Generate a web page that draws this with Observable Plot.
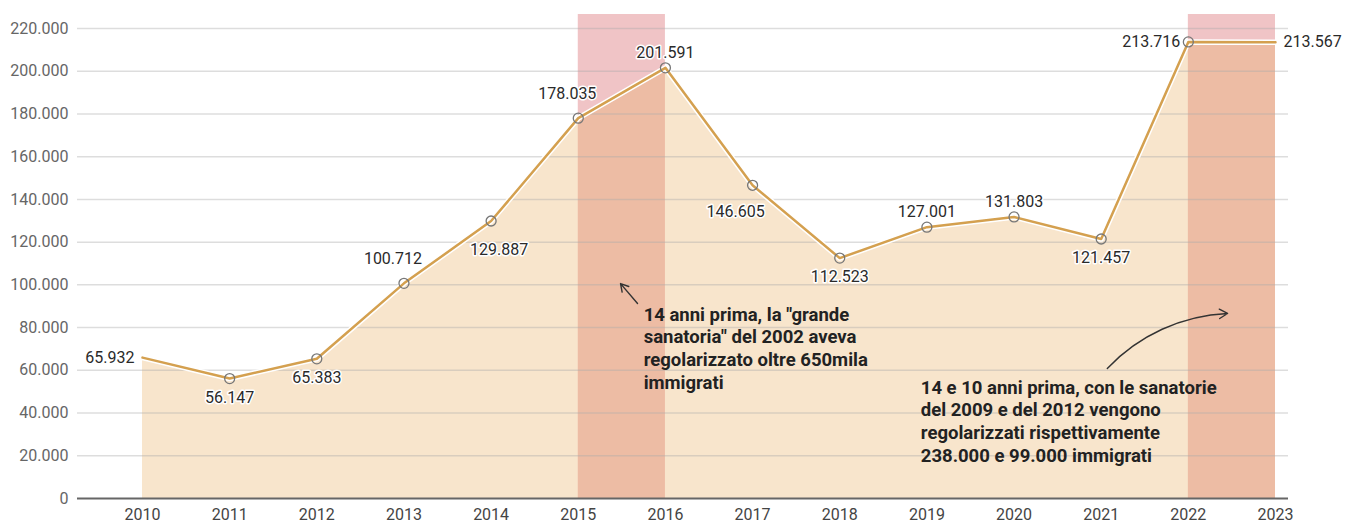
<!DOCTYPE html>
<html><head><meta charset="utf-8">
<script src="https://cdn.jsdelivr.net/npm/d3@7"></script>
<script src="https://cdn.jsdelivr.net/npm/@observablehq/plot@0.6"></script>
<style>body{margin:0;background:#fff;font-family:Roboto,sans-serif}</style>
</head><body><div id="chart"></div>
<script>
// ---- data ----
const years = [2010,2011,2012,2013,2014,2015,2016,2017,2018,2019,2020,2021,2022,2023];
const values = [65932,56147,65383,100712,129887,178035,201591,146605,112523,127001,131803,121457,213716,213567];
const labelPlacement = ["left","below","below","above-left","below-right","above-left","above","below-left","below","above","above","below","left","right"];
const circledYears = [2011,2012,2013,2014,2015,2016,2017,2018,2019,2020,2021,2022];
const highlightStart = [2015, 2022];
const highlightEnd = [2016, 2023];
const yTicks = [0,20000,40000,60000,80000,100000,120000,140000,160000,180000,200000,220000];
const noteTexts = [
  "14 anni prima, la \"grande\nsanatoria\" del 2002 aveva\nregolarizzato oltre 650mila\nimmigrati",
  "14 e 10 anni prima, con le sanatorie\ndel 2009 e del 2012 vengono\nregolarizzati rispettivamente\n238.000 e 99.000 immigrati"
];
const noteX = [2015.75, 2018.93];
const noteY = [70700, 36500];
const arrowX1 = [2015.68, 2021.07];
const arrowY1 = [91300, 60900];
const arrowX2 = [2015.485, 2022.45];
const arrowY2 = [100600, 86600];
const arrowBend = [0, 22];

// ---- build tables ----
const data = years.map((y, i) => ({year: y, value: values[i], pos: labelPlacement[i]}));
const circled = data.filter(d => circledYears.includes(d.year));
const highlights = highlightStart.map((s, i) => ({x1: s, x2: highlightEnd[i]}));
const notes = noteTexts.map((t, i) => ({text: t, x: noteX[i], y: noteY[i]}));
const arrows = arrowX1.map((x, i) => ({x1: x, y1: arrowY1[i], x2: arrowX2[i], y2: arrowY2[i], bend: arrowBend[i]}));

const fmt = d3.formatLocale({decimal: ",", thousands: ".", grouping: [3], currency: ["€", ""]}).format(",d");

const offsets = {
  "left": {textAnchor: "end", dx: -8, dy: 0},
  "right": {textAnchor: "start", dx: 8, dy: 0},
  "above": {textAnchor: "middle", dx: 0, dy: -15},
  "below": {textAnchor: "middle", dx: 0, dy: 19},
  "above-left": {textAnchor: "middle", dx: -11, dy: -24},
  "below-right": {textAnchor: "middle", dx: 8, dy: 29},
  "below-left": {textAnchor: "middle", dx: -17, dy: 27}
};
const labelMarks = Object.entries(offsets).map(([k, o]) =>
  Plot.text(data.filter(d => d.pos === k), {
    x: "year", y: "value", text: d => fmt(d.value),
    textAnchor: o.textAnchor, dx: o.dx, dy: o.dy,
    fontSize: 16, fill: "#2a2a2a", stroke: "white", strokeWidth: 3, paintOrder: "stroke"
  })
);

const arrowMarks = arrows.map(a =>
  Plot.arrow([a], {x1: "x1", y1: "y1", x2: "x2", y2: "y2", bend: a.bend, stroke: "#333", strokeWidth: 1.4, headLength: 10})
);

const lineColor = "#d4a04f";

const chart = Plot.plot({
  width: 1354,
  height: 525,
  marginLeft: 77,
  marginRight: 66,
  marginTop: 14,
  marginBottom: 27,
  style: {fontFamily: "Roboto, sans-serif", fontSize: "16px", background: "white"},
  x: {domain: [2010, 2023], range: [142, 1275]},
  y: {domain: [0, 220000], range: [498, 28]},
  marks: [
    Plot.rect(highlights, {x1: "x1", x2: "x2", fill: "#f0c4c6"}),
    Plot.areaY(data, {x: "year", y: "value", fill: "#e8a857", fillOpacity: 0.3}),
    Plot.ruleY(yTicks.filter(d => d > 0), {stroke: "#aaa", strokeOpacity: 0.4, strokeWidth: 1.5}),
    Plot.axisY(yTicks, {tickSize: 0, tickPadding: 9, tickFormat: fmt, fontSize: 16, color: "#666", label: null}),
    Plot.axisX(years, {tickSize: 0, tickPadding: 10, tickFormat: d => String(d), fontSize: 16, color: "#444", label: null}),
    Plot.ruleY([0], {stroke: "#666", strokeWidth: 2}),
    Plot.lineY(data, {x: "year", y: "value", stroke: "white", strokeWidth: 5.5}),
    Plot.lineY(data, {x: "year", y: "value", stroke: lineColor, strokeWidth: 2.5}),
    Plot.dot(circled, {x: "year", y: "value", r: 5, stroke: "#777", strokeWidth: 1.3, fill: "none"}),
    ...labelMarks,
    ...arrowMarks,
    Plot.text(notes, {x: "x", y: "y", text: "text", textAnchor: "start", lineAnchor: "middle", lineHeight: 1.23, fontSize: 18.5, fontWeight: "bold", fill: "#222"})
  ]
});
document.getElementById("chart").appendChild(chart);
</script>
</body></html>
